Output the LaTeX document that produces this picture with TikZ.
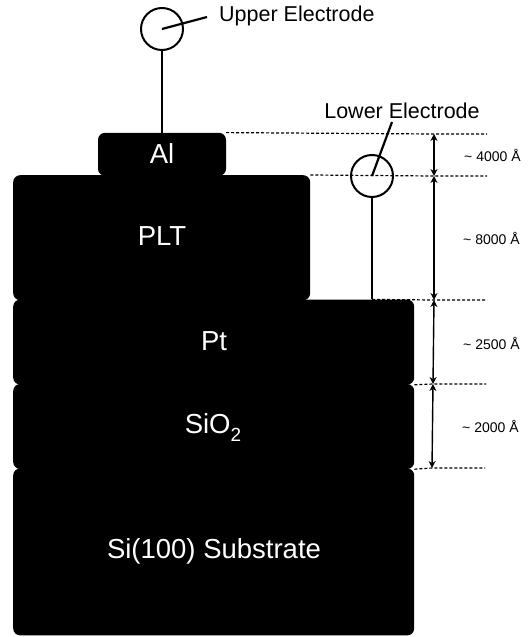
\documentclass[tikz,border=0pt]{standalone}
\usepackage{fontspec}
\setmainfont{Liberation Sans}
\usetikzlibrary{arrows.meta,positioning}

\begin{document}
\begin{tikzpicture}[%
    x=1pt,
    y=-1pt,
    >={Stealth[length=7pt,width=7pt]},
    layer/.style={fill=black, rounded corners=7pt, inner sep=0pt},
    layertag/.style={text=white, inner sep=0pt, anchor=base, font=\fontsize{27.5}{30}\selectfont},
    electrode/.style={draw, circle, line width=2pt, minimum size=42pt, inner sep=0pt},
    wire/.style={line width=2.2pt},
    rule/.style={densely dashed, line width=1.2pt},
    size/.style={<->, line width=1.4pt},
    tag/.style={font=\fontsize{21.5}{24}\selectfont, inner sep=0pt},
    sizetag/.style={font=\fontsize{14}{16}\selectfont, inner sep=0pt, anchor=west}
  ]
    \useasboundingbox (0,0) rectangle (532,637);

    \node[layer, minimum width=297pt, minimum height=125pt, anchor=north west] (plt) at (13,175) {};
    \node[layer, minimum width=128pt, minimum height=43pt, anchor=south] (al) at (162,176) {};
    \node[layer, minimum width=401pt, minimum height=85pt, below right=-1pt and 0pt of plt.south west] (pt) {};
    \node[layer, minimum width=401pt, minimum height=85pt, below=-1pt of pt] (sio) {};
    \node[layer, minimum width=401pt, minimum height=167pt, below=-1pt of sio] (si) {};

    \node[layertag] (altag) at (162,163) {Al};
    \node[layertag] (plttag) at (162,245) {PLT};
    \node[layertag] (pttag) at (214,350) {Pt};
    \node[layertag] (siotag) at (213,433) {SiO\raisebox{-8pt}{\fontsize{19}{20}\selectfont 2}};
    \node[layertag] (sitag) at (214,558) {Si(100) Substrate};

    \node[electrode] (upper) at (162,29) {};
    \node[electrode] (lower) at (372,176) {};
    \node[tag, anchor=west] (uppertag) at (219,16) {Upper Electrode};
    \node[tag] (lowertag) at (402,111) {Lower Electrode};
    \coordinate (uppertip) at (207,17);
    \coordinate (lowertip) at (392,122);

    \draw[wire] (upper) -- (al);
    \draw[wire] (lower) -- (lower |- pt.north);
    \draw[wire] (upper.center) -- (uppertip);
    \draw[wire] (lower.center) -- (lowertip);

    \coordinate (a0) at (434,134);
    \coordinate (a1) at (434,176);
    \coordinate (a2) at (434,300);
    \coordinate (a3) at (433,384);
    \coordinate (a4) at (432,468);

    \draw[rule] (al.north east) -- (a0) -- (487,134);
    \draw[rule] (plt.north east) -- (a1) -- (487,176);
    \draw[rule] (lower |- pt.north) -- (a2) -- (487,300);
    \draw[rule] (pt.south east) -- (a3) -- (486,384);
    \draw[rule] (sio.south east) -- (a4) -- (485,468);

    \draw[size] (a0) -- (a1);
    \draw[size] (a1) -- (a2);
    \draw[size] (a2) -- (a3);
    \draw[size] (a3) -- (a4);

    \node[sizetag] (t0) at (464,155) {\textasciitilde{} 4000 Å};
    \node[sizetag] (t1) at (463,238) {\textasciitilde{} 8000 Å};
    \node[sizetag] (t2) at (463,343) {\textasciitilde{} 2500 Å};
    \node[sizetag] (t3) at (462,426) {\textasciitilde{} 2000 Å};
  \end{tikzpicture}
\end{document}
